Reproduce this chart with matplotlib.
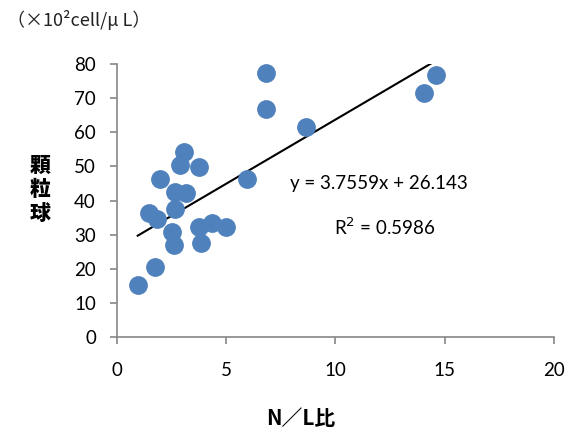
import matplotlib.pyplot as plt
import numpy as np

# N/L ratio vs granulocyte count
nl_ratio = [0.96, 1.75, 1.49, 1.85, 1.98, 2.51, 2.60, 2.68, 2.68, 2.90, 3.07, 3.16,
            3.77, 3.77, 3.85, 4.34, 5.02, 5.96, 6.85, 6.85, 8.64, 14.05, 14.59]
granulocytes = [15.3, 20.7, 36.4, 34.7, 46.4, 30.7, 26.9, 42.4, 37.6, 50.5, 54.1, 42.3,
                49.9, 32.3, 27.5, 33.5, 32.3, 46.4, 77.4, 66.8, 61.6, 71.6, 76.9]

# linear trend line coefficients
slope = 3.7559
intercept = 26.143
r_squared = 0.5986

x_ticks = [0, 5, 10, 15, 20]
y_ticks = [0, 10, 20, 30, 40, 50, 60, 70, 80]

num_font = "Lato"
jp_font = ["Noto Sans CJK JP", "DejaVu Sans"]
axis_grey = "#868686"

fig = plt.figure(figsize=(5.71, 4.34), dpi=100)
ax = fig.add_axes([0.2044, 0.2228, 0.7656, 0.6297])

ax.plot(nl_ratio, granulocytes, linestyle="", marker="o", markersize=12.5,
        markerfacecolor="#4F81BD", markeredgecolor="#4F81BD", zorder=3)

# trend line over the range of the data
x_line = np.array([min(nl_ratio), max(nl_ratio)])
ax.plot(x_line, slope * x_line + intercept, color="black", linewidth=1.5, zorder=2)

ax.set_xlim(0, 20)
ax.set_ylim(0, 80)
ax.set_xticks(x_ticks)
ax.set_yticks(y_ticks)

for side in ["top", "right"]:
    ax.spines[side].set_visible(False)
for side in ["left", "bottom"]:
    ax.spines[side].set_color(axis_grey)
    ax.spines[side].set_linewidth(1.2)

ax.tick_params(axis="both", colors=axis_grey, length=5, width=1.2, direction="out")
ax.tick_params(axis="x", pad=13, labelcolor="black", labelsize=13.5)
ax.tick_params(axis="y", pad=10, labelcolor="black", labelsize=13.5)
for lab in ax.get_xticklabels() + ax.get_yticklabels():
    lab.set_fontfamily(num_font)

# regression equation
ax.text(12.0, 45.0, f"y = {slope}x + {intercept}", fontsize=13.5, family=num_font,
        ha="center", va="center")
ax.text(12.25, 32.2, f"R$^2$ = {r_squared}", fontsize=13.5, family=num_font,
        ha="center", va="center")

# axis titles
fig.text(0.527, 0.035, "N／L比", fontsize=15, fontweight="bold", family=jp_font,
         ha="center", va="center")
fig.text(0.07, 0.562, "顆\n粒\n球", fontsize=15, fontweight="black", family=jp_font,
         ha="center", va="center", linespacing=1.25)
fig.text(0.012, 0.953, "（×10²cell/μ L）", fontsize=13, family=jp_font,
         ha="left", va="center", color="#222222")

fig.savefig("out.png", dpi=100)
